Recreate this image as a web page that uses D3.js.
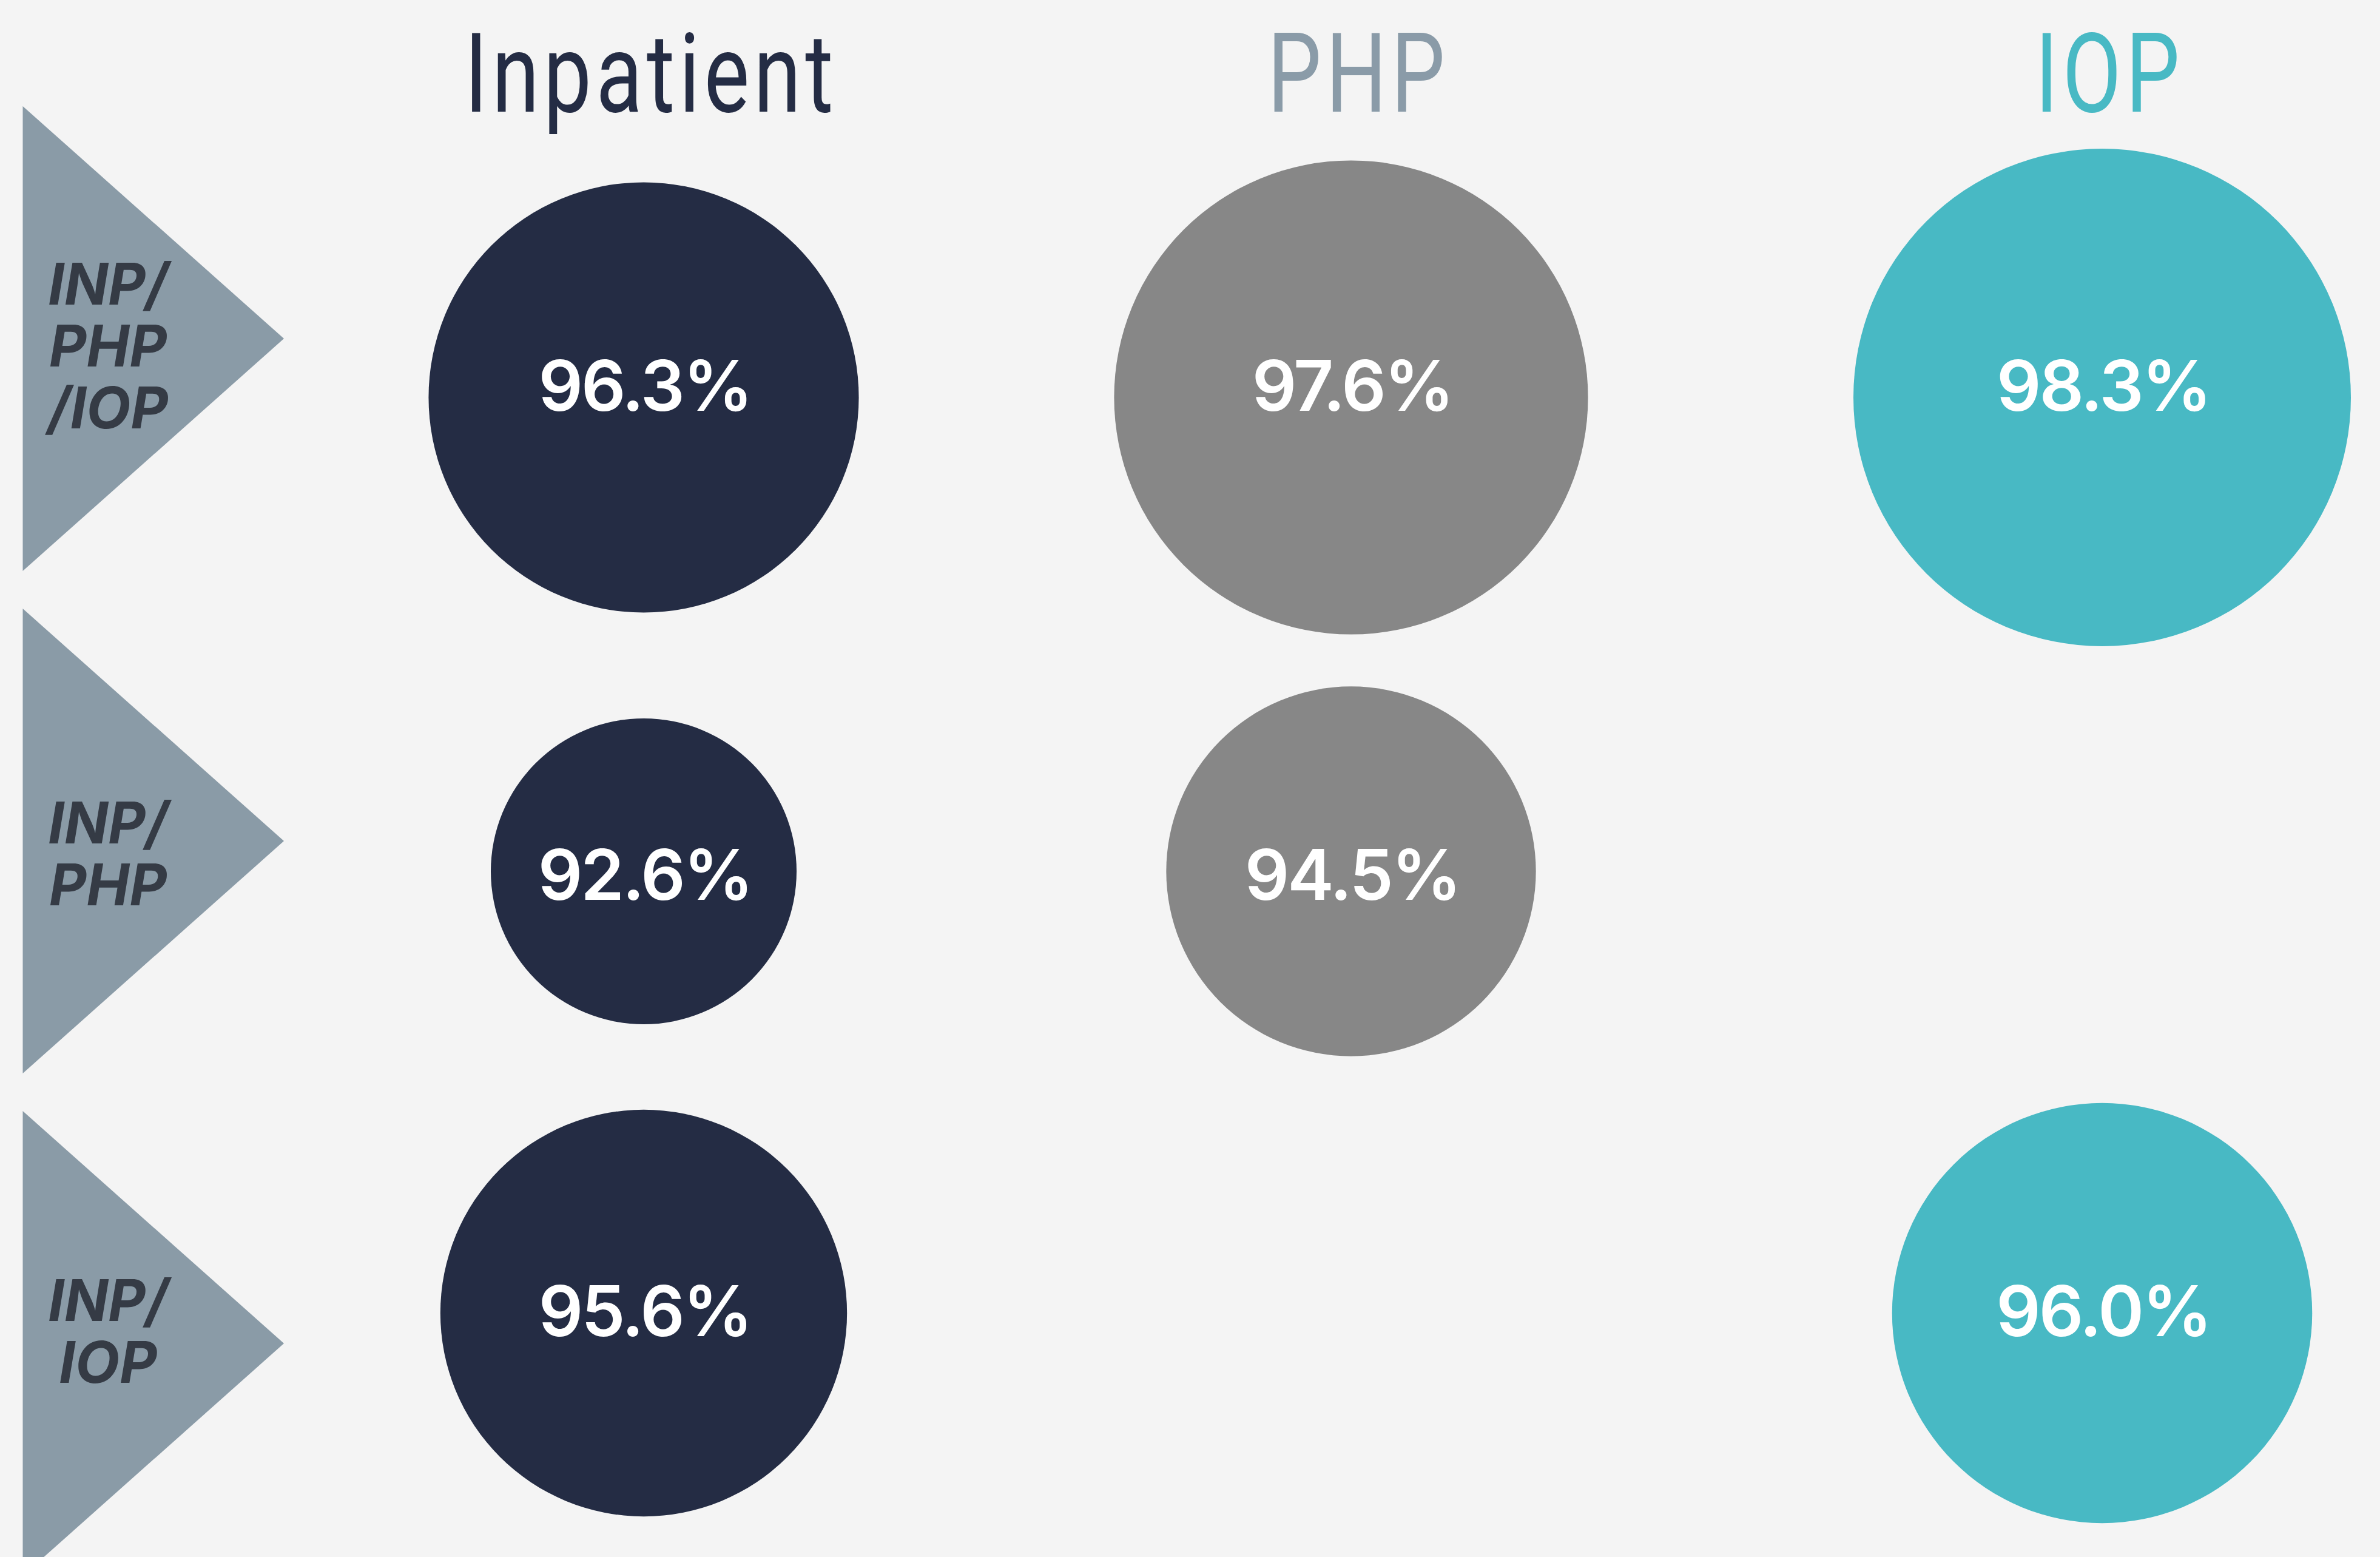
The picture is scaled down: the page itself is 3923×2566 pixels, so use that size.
<!DOCTYPE html>
<html>
<head>
<meta charset="utf-8">
<script src="https://cdn.jsdelivr.net/npm/d3@7"></script>
<style>
  html, body { margin: 0; padding: 0; background: #f4f4f4; }
  svg { display: block; }
</style>
</head>
<body>
<svg id="chart" width="3923" height="2566"></svg>
<script>
// ---- data ----
const programs = ["Inpatient", "PHP", "IOP"];
const pathways = ["INP/PHP/IOP", "INP/PHP", "INP/IOP"];
const pathwayLines = [["INP/", "PHP", "/IOP"], ["INP/", "PHP"], ["INP/", "IOP"]];
const inpatientValues = [96.3, 92.6, 95.6];
const phpValues = [97.6, 94.5, null];
const iopValues = [98.3, null, 96.0];

// ---- build cells ----
const seriesByProgram = { "Inpatient": inpatientValues, "PHP": phpValues, "IOP": iopValues };
const cells = [];
programs.forEach(p => {
  seriesByProgram[p].forEach((v, i) => {
    if (v != null) cells.push({ program: p, pathway: pathways[i], value: v });
  });
});

const W = 3923, H = 2566;
const svg = d3.select("#chart");
svg.append("rect").attr("width", W).attr("height", H).attr("fill", "#f4f4f4");

// ---- scales ----
const x = d3.scaleOrdinal().domain(programs).range([1061, 2227, 3465]);
const yCircle = d3.scaleOrdinal().domain(pathways).range([655, 1436, 2164]);
const yText = d3.scaleOrdinal().domain(pathways).range([677, 1483, 2202]);
const yTri = d3.scalePoint().domain(pathways).range([558, 2214]);
const yLabel = d3.scaleOrdinal().domain(pathways).range([502, 1390, 2177]);
const r = d3.scaleLinear().domain([92.6, 98.3]).range([252, 410]);
const fill = d3.scaleOrdinal().domain(programs).range(["#242c44", "#878787", "#48b9c4"]);
const headColor = d3.scaleOrdinal().domain(programs).range(["#242c44", "#8a9ba8", "#48b9c4"]);

// ---- headers ----
svg.append("g").selectAll("text").data(programs).join("text")
  .attr("transform", d => `translate(${x(d) + 12},184) scale(0.78,1)`)
  .attr("text-anchor", "middle")
  .attr("font-family", "Roboto, sans-serif")
  .attr("font-weight", 400)
  .attr("font-size", 181)
  .attr("letter-spacing", 9)
  .attr("fill", d => headColor(d))
  .text(d => d);

// ---- triangles ----
const triHalf = 383, triLeft = 37.5, triTip = 468;
svg.append("g").selectAll("path").data(pathways).join("path")
  .attr("d", d => {
    const cy = yTri(d);
    return d3.line()([[triLeft, cy - triHalf], [triTip, cy], [triLeft, cy + triHalf]]) + "Z";
  })
  .attr("fill", "#8a9ba7");

// ---- triangle labels ----
const lab = svg.append("g");
pathways.forEach((p, i) => {
  pathwayLines[i].forEach((line, j) => {
    lab.append("text")
      .attr("x", 178)
      .attr("y", yLabel(p) + j * 102)
      .attr("font-family", "Inter, sans-serif")
      .attr("font-weight", 700)
      .attr("font-style", "italic")
      .attr("font-size", 95)
      .attr("fill", "#353b45")
      .attr("text-anchor", "middle")
      .text(line);
  });
});

// ---- circles ----
svg.append("g").selectAll("circle").data(cells).join("circle")
  .attr("cx", d => x(d.program))
  .attr("cy", d => yCircle(d.pathway))
  .attr("r", d => r(d.value))
  .attr("fill", d => fill(d.program));

// ---- values ----
svg.append("g").selectAll("text").data(cells).join("text")
  .attr("x", d => x(d.program) + 2)
  .attr("y", d => yText(d.pathway))
  .attr("text-anchor", "middle")
  .attr("font-family", "Inter, sans-serif")
  .attr("font-weight", 600)
  .attr("font-size", 115)
  .attr("letter-spacing", -3)
  .attr("fill", "#ffffff")
  .text(d => d3.format(".1f")(d.value) + "%");
</script>
</body>
</html>
